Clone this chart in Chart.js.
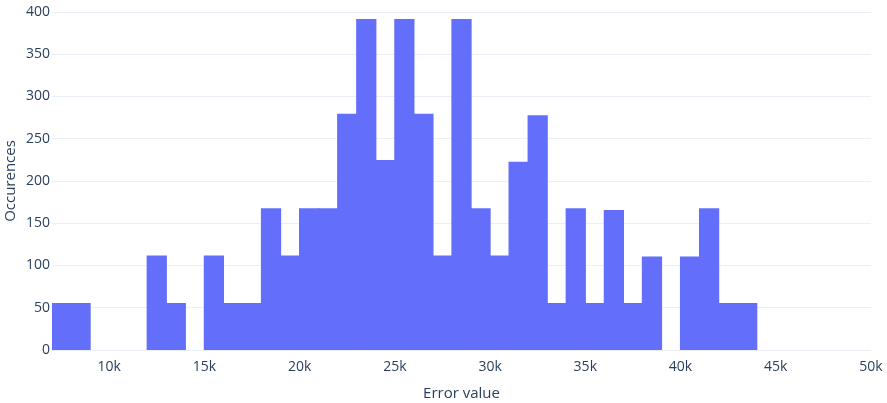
<!DOCTYPE html>
<html>
<head>
<meta charset="utf-8">
<script src="https://cdn.jsdelivr.net/npm/chart.js@4/dist/chart.umd.min.js"></script>
<style>
  html, body { margin: 0; padding: 0; background: #fff; }
  #wrap { width: 887px; height: 403px; }
</style>
</head>
<body>
<div id="wrap"><canvas id="histChart" width="887" height="403"></canvas></div>
<script>
// bins (start of each 1k bin) and counts
const binStarts = [7000, 8000, 9000, 10000, 11000, 12000, 13000, 14000, 15000, 16000,
                   17000, 18000, 19000, 20000, 21000, 22000, 23000, 24000, 25000, 26000,
                   27000, 28000, 29000, 30000, 31000, 32000, 33000, 34000, 35000, 36000,
                   37000, 38000, 39000, 40000, 41000, 42000, 43000];
const counts = [55, 55, 0, 0, 0, 111, 55, 0, 111, 55,
                55, 167, 111, 167, 167, 279, 391, 224, 391, 279,
                111, 391, 167, 111, 222, 277, 55, 167, 55, 165,
                55, 110, 0, 110, 167, 55, 55];
const binWidth = 1000;
const xTicks = [10000, 15000, 20000, 25000, 30000, 35000, 40000, 45000, 50000];
const yTicks = [0, 50, 100, 150, 200, 250, 300, 350, 400];

const textColor = "#2a3f5f";
const gridColor = "#ebf0f8";
const font = "'Open Sans', verdana, arial, sans-serif";

// empty bins are left out of the drawing (null), so no hairline shows
const points = binStarts.map((s, i) => ({ x: s + binWidth / 2, y: counts[i] || null }));

new Chart(document.getElementById("histChart"), {
    type: "bar",
    data: {
        datasets: [{
            data: points,
            backgroundColor: "#636efa",
            borderWidth: 0,
            inflateAmount: 0.6,
            barPercentage: 1,
            categoryPercentage: 1
        }]
    },
    options: {
        responsive: false,
        animation: false,
        events: [],
        layout: { padding: { top: 12, right: 16, left: 0, bottom: 0 } },
        plugins: { legend: { display: false }, tooltip: { enabled: false } },
        scales: {
            x: {
                type: "linear",
                offset: false,
                min: 7000,
                max: 50000,
                afterBuildTicks: s => { s.ticks = xTicks.map(v => ({ value: v })); },
                afterFit: s => { s.height = 53; },
                grid: { display: false },
                border: { display: false },
                ticks: {
                    color: textColor,
                    font: { family: font, size: 14 },
                    padding: 1,
                    maxRotation: 0,
                    callback: v => (v / 1000) + "k"
                },
                title: {
                    display: true,
                    text: "Error value",
                    color: textColor,
                    font: { family: font, size: 15 },
                    padding: { top: 6, bottom: 0 }
                }
            },
            y: {
                min: 0,
                max: 400,
                afterBuildTicks: s => { s.ticks = yTicks.map(v => ({ value: v })); },
                afterFit: s => { s.width = 52; },
                grid: { color: gridColor, lineWidth: 1, drawTicks: false },
                border: { display: false },
                ticks: {
                    color: textColor,
                    font: { family: font, size: 14 },
                    padding: 2
                },
                title: {
                    display: true,
                    text: "Occurences",
                    color: textColor,
                    font: { family: font, size: 15 },
                    padding: { top: 2, bottom: 0 }
                }
            }
        }
    }
});
</script>
</body>
</html>
